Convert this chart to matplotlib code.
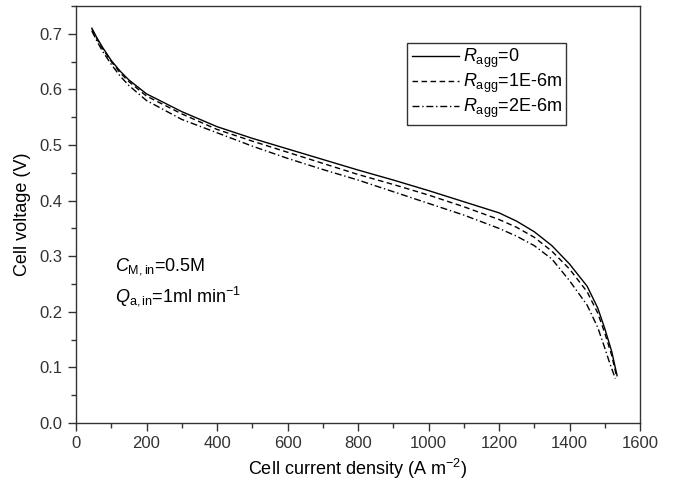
import matplotlib
matplotlib.use("Agg")
import matplotlib.pyplot as plt
from matplotlib.ticker import MultipleLocator

plt.rcParams['font.family'] = ['Liberation Sans', 'DejaVu Sans']
plt.rcParams['mathtext.fontset'] = 'custom'
plt.rcParams['mathtext.rm'] = 'Liberation Sans'
plt.rcParams['mathtext.it'] = 'Liberation Sans:italic'

# data (current density A m^-2, voltage V)
j_0 = [45, 60, 75, 100, 125, 150, 200, 300, 400, 500, 600, 700, 800, 900, 1000,
       1100, 1200, 1250, 1300, 1350, 1400, 1450, 1480, 1500, 1520, 1535]
v_0 = [0.710, 0.692, 0.676, 0.652, 0.633, 0.617, 0.592, 0.560, 0.533, 0.512, 0.493,
       0.474, 0.455, 0.437, 0.418, 0.398, 0.378, 0.363, 0.344, 0.319, 0.286, 0.246,
       0.207, 0.170, 0.128, 0.085]

j_1 = [45, 60, 75, 100, 125, 150, 200, 300, 400, 500, 600, 700, 800, 900, 1000,
       1100, 1200, 1250, 1300, 1350, 1400, 1450, 1480, 1500, 1520, 1533]
v_1 = [0.708, 0.690, 0.674, 0.650, 0.630, 0.614, 0.588, 0.556, 0.528, 0.507, 0.487,
       0.467, 0.447, 0.429, 0.410, 0.389, 0.366, 0.352, 0.334, 0.309, 0.277, 0.236,
       0.198, 0.162, 0.121, 0.085]

j_2 = [45, 60, 75, 100, 125, 150, 200, 300, 400, 500, 600, 700, 800, 900, 1000,
       1100, 1200, 1250, 1300, 1350, 1400, 1450, 1480, 1500, 1515, 1530]
v_2 = [0.705, 0.686, 0.669, 0.645, 0.624, 0.607, 0.580, 0.546, 0.522, 0.498, 0.476,
       0.456, 0.437, 0.416, 0.395, 0.374, 0.350, 0.336, 0.319, 0.295, 0.256, 0.212,
       0.172, 0.135, 0.106, 0.080]

labels = [r'$R_{\rm agg}$=0', r'$R_{\rm agg}$=1E-6m', r'$R_{\rm agg}$=2E-6m']

fig = plt.figure(figsize=(6.81, 4.83), dpi=100)
ax = fig.add_axes([0.1116, 0.1242, 0.8282, 0.8634])

ax.plot(j_0, v_0, color='black', linestyle='-', linewidth=1.0, label=labels[0])
ax.plot(j_1, v_1, color='black', linestyle=(0, (4, 2.5)), linewidth=1.0, label=labels[1])
ax.plot(j_2, v_2, color='black', linestyle=(0, (5, 2, 1, 2)), linewidth=1.0, label=labels[2])

ax.set_xlim(0, 1600)
ax.set_ylim(0.0, 0.75)
ax.xaxis.set_major_locator(MultipleLocator(200))
ax.xaxis.set_minor_locator(MultipleLocator(100))
ax.yaxis.set_major_locator(MultipleLocator(0.1))
ax.yaxis.set_minor_locator(MultipleLocator(0.05))
ax.yaxis.set_major_formatter(matplotlib.ticker.FormatStrFormatter('%.1f'))
ax.tick_params(which='major', direction='out', length=6, width=1, labelsize=12, colors='#333333')
ax.tick_params(which='minor', direction='out', length=3.5, width=1, colors='#333333')
for s in ax.spines.values():
    s.set_color('#333333')
    s.set_linewidth(1.0)

ax.set_xlabel(r'Cell current density (A m$^{-2}$)', fontsize=13, labelpad=4)
ax.set_ylabel('Cell voltage (V)', fontsize=13, labelpad=6)

leg = ax.legend(loc='upper left', bbox_to_anchor=(0.587, 0.912), fontsize=13,
                handlelength=2.6, handletextpad=0.25, labelspacing=0.1,
                borderpad=0.25, fancybox=False, framealpha=1, borderaxespad=0)
leg.get_frame().set_edgecolor('#333333')
leg.get_frame().set_linewidth(1.0)

ax.text(0.070, 0.376, r'$C_{\rm M,in}$=0.5M', transform=ax.transAxes, fontsize=13, va='center')
ax.text(0.070, 0.305, r'$Q_{\rm a,in}$=1ml min$^{-1}$', transform=ax.transAxes, fontsize=13, va='center')

fig.savefig('out.png', dpi=100)
